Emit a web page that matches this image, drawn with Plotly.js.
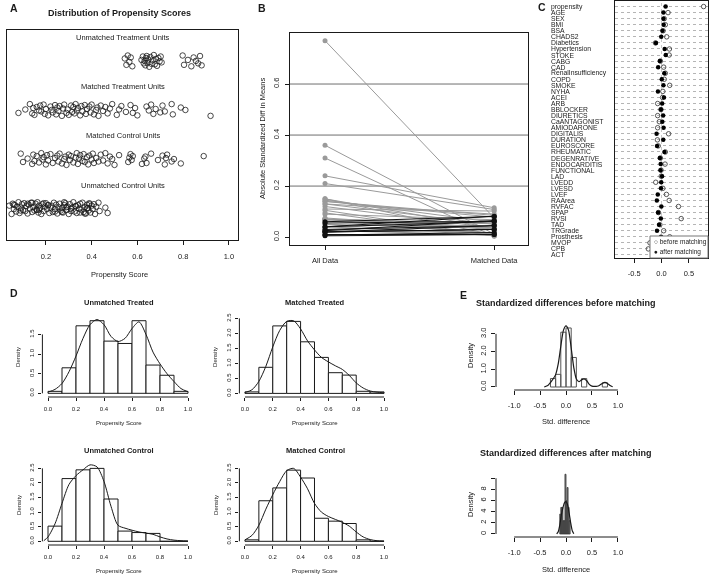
<!DOCTYPE html>
<html><head><meta charset="utf-8">
<script src="https://cdn.plot.ly/plotly-3.0.1.min.js"></script>
<style>html,body{margin:0;padding:0;background:#fff}#chart{width:709px;height:574px;filter:grayscale(100%)}</style>
</head><body><div id="chart"></div>
<script>
// ================= DATA =================
// Panel A: propensity scores by group (jittered strip chart)
const groupLabels = ['Unmatched Treatment Units','Matched Treatment Units','Matched Control Units','Unmatched Control Units'];
const groupLevels = [4,3,2,1];
const unmatchedTreatScores = [0.545,0.552,0.558,0.565,0.571,0.578,0.618,0.624,0.628,0.632,0.635,0.638,0.641,0.644,0.648,0.652,0.657,0.662,0.667,0.672,0.676,0.681,0.686,0.692,0.697,0.702,0.706,0.798,0.804,0.821,0.836,0.846,0.856,0.866,0.874,0.881];
const matchedTreatScores = [0.08,0.11,0.13,0.14,0.145,0.15,0.16,0.17,0.175,0.18,0.19,0.195,0.20,0.21,0.22,0.225,0.23,0.24,0.245,0.25,0.255,0.26,0.27,0.275,0.28,0.29,0.295,0.30,0.31,0.315,0.32,0.325,0.33,0.335,0.34,0.35,0.355,0.36,0.37,0.375,0.38,0.39,0.395,0.40,0.41,0.42,0.425,0.43,0.44,0.45,0.46,0.47,0.48,0.49,0.51,0.52,0.53,0.55,0.57,0.58,0.59,0.60,0.64,0.65,0.66,0.67,0.68,0.70,0.71,0.72,0.75,0.755,0.79,0.81,0.92];
const matchedControlScores = [0.09,0.10,0.12,0.14,0.145,0.15,0.16,0.17,0.18,0.185,0.19,0.20,0.205,0.21,0.22,0.23,0.24,0.25,0.255,0.26,0.27,0.28,0.285,0.29,0.30,0.305,0.31,0.32,0.33,0.335,0.34,0.345,0.35,0.36,0.365,0.37,0.38,0.385,0.39,0.40,0.405,0.41,0.42,0.43,0.44,0.45,0.46,0.47,0.48,0.49,0.50,0.52,0.56,0.565,0.57,0.575,0.58,0.62,0.63,0.635,0.64,0.66,0.69,0.71,0.72,0.725,0.73,0.75,0.76,0.79,0.89];
const unmatchedControlScores = [0.04,0.05,0.055,0.06,0.065,0.07,0.075,0.08,0.085,0.09,0.095,0.10,0.105,0.11,0.115,0.12,0.125,0.13,0.135,0.14,0.145,0.15,0.155,0.16,0.163,0.167,0.17,0.175,0.18,0.185,0.19,0.195,0.20,0.205,0.21,0.215,0.22,0.225,0.23,0.235,0.24,0.245,0.25,0.255,0.26,0.265,0.27,0.275,0.28,0.285,0.29,0.295,0.30,0.305,0.31,0.315,0.32,0.325,0.33,0.335,0.34,0.345,0.35,0.355,0.36,0.365,0.37,0.375,0.38,0.383,0.387,0.39,0.395,0.40,0.405,0.41,0.415,0.42,0.43,0.435,0.46,0.47,0.12,0.16,0.21,0.24,0.28,0.31,0.33,0.37,0.39,0.17,0.19,0.27,0.29,0.06,0.09,0.14,0.35,0.38];
const jitterOffsets = [0.05,-0.08,0.11,-0.02,0.07,-0.11,0.02,0.09,-0.05,0.00,-0.09,0.06,0.10,-0.04,0.03,-0.12,0.08,-0.06,0.01,0.12,-0.07,0.04,-0.10,0.06,-0.01,0.09,-0.03,0.11,-0.08,0.02,-0.11,0.07,0.00,-0.05,0.10,-0.09,0.05,-0.02,0.08,-0.12,0.03,0.11,-0.06,0.01,-0.10,0.09,-0.04,0.06,-0.07,0.12,-0.01,0.04,-0.11,0.08,-0.03,0.10,-0.08,0.02,0.07,-0.05,0.11,-0.09,0.00,0.05,-0.12,0.09,-0.02,0.06,-0.07,0.03,0.12,-0.10,0.01,0.08,-0.04,0.10,-0.06,0.04,-0.11,0.07,-0.01,0.11,-0.08,0.02,-0.05,0.09,-0.03,0.12,-0.09,0.05,0.00,-0.12,0.08,-0.06,0.03,0.10,-0.02,0.06,-0.10,0.01];

// Panels B, C, E: standardized differences per covariate
const covariates = ['propensity','AGE','SEX','BMI','BSA','CHADS2','Diabetics','Hypertension','STOKE','CABG','CAD','RenalInsufficiency','COPD','SMOKE','NYHA','ACEI','ARB','BBLOCKER','DIURETICS','CaANTAGONIST','AMIODARONE','DIGITALIS','DURATION','EUROSCORE','RHEUMATIC','DEGENRATIVE','ENDOCARDITIS','FUNCTIONAL','LAD','LVEDD','LVESD','LVEF','RAArea','RVFAC','SPAP','RVSI','TAD','TRGrade','Prosthesis','MVOP','CPB','ACT'];
const stdDiffBefore = [0.77,0.12,0.05,0.07,0.03,0.095,-0.11,0.145,0.14,-0.02,0.04,0.07,0.05,0.15,0.025,0.02,-0.07,-0.01,-0.07,-0.04,-0.07,0.13,-0.075,-0.06,0.07,-0.02,0.065,-0.008,-0.005,-0.105,0.025,0.09,0.14,0.31,-0.055,0.36,-0.03,0.04,0.15,-0.21,-0.24,-0.13];
const stdDiffAfter = [0.075,0.035,0.036,0.039,0.018,-0.005,-0.102,0.058,0.078,-0.03,-0.061,0.052,0.005,0.035,-0.065,0.045,0.012,-0.01,0.03,0.015,0.038,-0.09,0.032,-0.081,0.055,-0.03,-0.015,-0.018,0.01,-0.005,-0.01,-0.068,-0.085,-0.003,-0.062,-0.012,-0.045,-0.082,-0.008,-0.108,-0.115,-0.05];
const balanceLabels = ['All Data','Matched Data'];
const legendLabels = ['before matching','after matching'];

// Panel D: propensity score histograms (density, bins of 0.1) and density curves
const histBinCenters = [0.05,0.15,0.25,0.35,0.45,0.55,0.65,0.75,0.85,0.95];
const histTitles = ['Unmatched Treated','Matched Treated','Unmatched Control','Matched Control'];
const densUnmatchedTreated = [0.05,0.65,1.72,1.85,1.33,1.27,1.85,0.72,0.46,0.05];
const densMatchedTreated   = [0.05,0.87,2.25,2.40,1.72,1.20,0.69,0.61,0.07,0.05];
const densUnmatchedControl = [0.52,2.15,2.45,2.50,1.45,0.35,0.30,0.27,0.0,0.0];
const densMatchedControl   = [0.05,1.39,1.83,2.44,2.17,0.79,0.69,0.61,0.05,0.0];
const curveUTx = [0,0.05,0.1,0.15,0.2,0.25,0.3,0.35,0.4,0.45,0.5,0.55,0.6,0.65,0.7,0.75,0.8,0.85,0.9,0.95,1.0];
const curveUTy = [0.03,0.1,0.25,0.55,0.95,1.4,1.75,1.88,1.75,1.45,1.32,1.4,1.65,1.82,1.5,1.05,0.75,0.5,0.3,0.12,0.04];
const curveMTx = [0,0.05,0.1,0.15,0.2,0.25,0.3,0.35,0.4,0.45,0.5,0.55,0.6,0.65,0.7,0.75,0.8,0.85,0.9,0.95,1.0];
const curveMTy = [0.03,0.12,0.4,0.9,1.55,2.1,2.4,2.42,2.15,1.75,1.45,1.2,1.05,0.92,0.8,0.6,0.35,0.18,0.08,0.04,0.02];
const curveUCx = [-0.03,0,0.05,0.1,0.15,0.2,0.25,0.3,0.35,0.4,0.45,0.5,0.55,0.6,0.65,0.7,0.75,0.8,0.85,0.9,0.95,1.0];
const curveUCy = [0.02,0.15,0.6,1.3,1.95,2.25,2.45,2.62,2.55,2.05,1.2,0.55,0.45,0.38,0.32,0.28,0.24,0.15,0.08,0.04,0.02,0.01];
const curveMCx = [0,0.05,0.1,0.15,0.2,0.25,0.3,0.35,0.4,0.45,0.5,0.55,0.6,0.65,0.7,0.75,0.8,0.85,0.9,0.95,1.0];
const curveMCy = [0.05,0.2,0.55,1.1,1.6,2.05,2.42,2.5,2.2,1.8,1.3,1.0,0.85,0.75,0.65,0.52,0.32,0.15,0.06,0.02,0.01];

// Panel E: density curves of standardized differences
const eTitles = ['Standardized differences before matching','Standardized differences after matching'];
const eBeforeCurveX = [-0.42,-0.35,-0.3,-0.25,-0.2,-0.15,-0.1,-0.05,0,0.05,0.1,0.15,0.2,0.25,0.3,0.35,0.4,0.45,0.5,0.55,0.6,0.65,0.7,0.75,0.8,0.85,0.9];
const eBeforeCurveY = [0,0.08,0.25,0.45,0.7,1.3,2.3,3.2,3.45,3.2,2.2,1.1,0.45,0.3,0.4,0.45,0.35,0.15,0.05,0.03,0.04,0.1,0.2,0.26,0.2,0.08,0.01];
const eAfterCurveX = [-0.18,-0.15,-0.12,-0.09,-0.06,-0.03,0,0.03,0.06,0.09,0.12,0.15];
const eAfterCurveY = [0,0.4,1.6,3.4,4.7,5.6,5.8,5.3,3.8,2.0,0.6,0.05];

// ================= LAYOUT HELPERS =================
const W = 709, H = 574;
const FONT = 'Liberation Sans, Arial, Helvetica, sans-serif';
const INK = '#1a1a1a';
const P = x => x / W;
const Q = y => 1 - y / H;
const dX = (a, b) => [P(a), P(b)];
const dY = (top, bottom) => [Q(bottom), Q(top)];
function ax(extra) {
  return Object.assign({showgrid:false, zeroline:false, showline:false, ticks:'outside', ticklen:4, tickwidth:1,
    tickcolor:INK, linecolor:INK, linewidth:1, tickfont:{family:FONT,size:7.5,color:INK}, fixedrange:true}, extra);
}
function txt(t, x, y, size, o) {
  return Object.assign({text:t, xref:'paper', yref:'paper', x:P(x), y:Q(y), showarrow:false,
    font:{family:FONT,size:size,color:INK}, xanchor:'center', yanchor:'middle'}, o || {});
}
const fmt1 = v => v.toFixed(1);

const traces = [];
const annotations = [];
const shapes = [];
const layout = {width:W, height:H, margin:{l:0,r:0,t:0,b:0}, paper_bgcolor:'#fff', plot_bgcolor:'rgba(0,0,0,0)',
  showlegend:false, font:{family:FONT,color:INK}, bargap:0};

// ================= PANEL A =================
layout.xaxis = ax({domain:dX(7,238), anchor:'y', range:[0.03,1.04], tickvals:[0.2,0.4,0.6,0.8,1.0],
  ticktext:[0.2,0.4,0.6,0.8,1.0].map(fmt1), showline:true, mirror:true, ticklabelstandoff:5});
layout.yaxis = ax({domain:dY(30,240), anchor:'x', range:[0.35,4.63], showline:true, mirror:true, ticks:'', showticklabels:false});
const groupScores = [unmatchedTreatScores, matchedTreatScores, matchedControlScores, unmatchedControlScores];
const shifts = [0,17,41,63];
groupScores.forEach((s, g) => {
  traces.push({type:'scatter', mode:'markers', xaxis:'x', yaxis:'y', x:s,
    y:s.map((v,i) => groupLevels[g] + jitterOffsets[(i + shifts[g]) % jitterOffsets.length]),
    marker:{symbol:'circle-open', size:5.5, color:INK, line:{width:0.8}}, hoverinfo:'skip'});
  annotations.push({text:groupLabels[g], xref:'x domain', yref:'y', x:0.5, y:groupLevels[g]+0.47, showarrow:false,
    font:{family:FONT,size:7.5,color:INK}, xanchor:'center', yanchor:'middle'});
});
annotations.push(txt('<b>Distribution of Propensity Scores</b>', 120, 13, 9));
annotations.push(txt('Propensity Score', 120, 275, 7.5));
annotations.push(txt('<b>A</b>', 8, 8, 10.5, {xanchor:'left'}));

// ================= PANEL B =================
layout.xaxis2 = ax({domain:dX(290,528), anchor:'y2', range:[0.793,2.2], tickvals:[1,2], ticktext:balanceLabels,
  showline:true, mirror:true, ticklabelstandoff:4});
layout.yaxis2 = ax({domain:dY(33,245), anchor:'x2', range:[-0.031,0.8], tickvals:[0,0.2,0.4,0.6],
  ticktext:[0,0.2,0.4,0.6].map(fmt1), tickangle:-90, showline:true, mirror:true, ticklabelstandoff:3});
[0.2,0.4,0.6].forEach(v => shapes.push({type:'line', xref:'x2 domain', x0:0, x1:1, yref:'y2', y0:v, y1:v,
  line:{color:'#6e6e6e', width:1}, layer:'below'}));
const grayX = [], grayY = [], blackX = [], blackY = [];
covariates.forEach((c, i) => {
  const a = Math.abs(stdDiffBefore[i]), b = Math.abs(stdDiffAfter[i]);
  if (b < a) { grayX.push(1,2,null); grayY.push(a,b,null); }
  else { blackX.push(1,2,null); blackY.push(a,b,null); }
});
traces.push({type:'scatter', mode:'lines+markers', xaxis:'x2', yaxis:'y2', x:grayX, y:grayY,
  line:{color:'#9a9a9a', width:1}, marker:{color:'#9a9a9a', size:5}, hoverinfo:'skip'});
traces.push({type:'scatter', mode:'lines+markers', xaxis:'x2', yaxis:'y2', x:blackX, y:blackY,
  line:{color:'#111', width:1}, marker:{color:'#111', size:5}, hoverinfo:'skip'});
annotations.push(txt('Absolute Standardized Diff in Means', 262, 139, 7.5, {textangle:-90}));
annotations.push(txt('<b>B</b>', 262, 8, 10.5));

// ================= PANEL C =================
const nC = covariates.length;
const rowY = covariates.map((c,i) => nC - i);
layout.xaxis3 = ax({domain:dX(615,708), anchor:'y3', range:[-0.85,0.85], tickvals:[-0.5,0,0.5],
  ticktext:['-0.5','0.0','0.5'], showline:true, mirror:true, ticklabelstandoff:4});
layout.yaxis3 = ax({domain:dY(0.5,258), anchor:'x3', range:[0.5,nC+1], tickvals:rowY, showticklabels:false, ticks:'',
  showgrid:true, gridcolor:'#b5b5b5', griddash:'dot', gridwidth:1, showline:true, mirror:true});
shapes.push({type:'line', xref:'x3', x0:0, x1:0, yref:'y3 domain', y0:0, y1:1, line:{color:'#c8c8c8', width:1, dash:'dot'}, layer:'below'});
traces.push({type:'scatter', mode:'markers', xaxis:'x3', yaxis:'y3', x:stdDiffBefore, y:rowY,
  marker:{symbol:'circle-open', size:4.5, color:'#444', line:{width:0.9}}, hoverinfo:'skip'});
traces.push({type:'scatter', mode:'markers', xaxis:'x3', yaxis:'y3', x:stdDiffAfter, y:rowY,
  marker:{symbol:'circle', size:4.5, color:'#000'}, hoverinfo:'skip'});
covariates.forEach((c, i) => annotations.push({text:c, xref:'paper', yref:'y3', x:P(549), y:rowY[i], showarrow:false,
  xanchor:'left', yanchor:'middle', font:{family:FONT, size:6.8, color:INK}}));
shapes.push({type:'rect', xref:'paper', yref:'paper', x0:P(650), x1:P(708), y0:Q(258), y1:Q(236),
  fillcolor:'#fff', line:{color:'#777', width:1}, layer:'above'});
annotations.push(txt('○ ' + legendLabels[0], 652, 242, 6.5, {xanchor:'left'}));
annotations.push(txt('● ' + legendLabels[1], 652, 252, 6.5, {xanchor:'left'}));
annotations.push(txt('<b>C</b>', 542, 7, 10.5));

// ================= PANEL D =================
const dPanels = [
  {n:4, dens:densUnmatchedTreated, cx:curveUTx, cy:curveUTy, xd:[42.4,193.6], yd:[316,397], yr:[-0.094,1.97], yt:[0,0.5,1,1.5]},
  {n:5, dens:densMatchedTreated,   cx:curveMTx, cy:curveMTy, xd:[239.4,389.6], yd:[316,397], yr:[-0.12,2.58], yt:[0,0.5,1,1.5,2,2.5]},
  {n:6, dens:densUnmatchedControl, cx:curveUCx, cy:curveUCy, xd:[42.4,193.6], yd:[464,545], yr:[-0.127,2.65], yt:[0,0.5,1,1.5,2,2.5]},
  {n:7, dens:densMatchedControl,   cx:curveMCx, cy:curveMCy, xd:[239.4,389.6], yd:[464,545], yr:[-0.127,2.65], yt:[0,0.5,1,1.5,2,2.5]}
];
const dTicks = [0,0.2,0.4,0.6,0.8,1.0];
dPanels.forEach((p, k) => {
  layout['xaxis'+p.n] = ax({domain:dX(p.xd[0],p.xd[1]), anchor:'y'+p.n, range:[-0.04,1.04], tickvals:dTicks,
    ticktext:dTicks.map(fmt1), ticklen:3, tickfont:{family:FONT,size:6,color:INK}, ticklabelstandoff:3});
  layout['yaxis'+p.n] = ax({domain:dY(p.yd[0],p.yd[1]), anchor:'x'+p.n, range:p.yr, tickvals:p.yt,
    ticktext:p.yt.map(fmt1), ticklen:3, tickangle:-90, tickfont:{family:FONT,size:6,color:INK}, ticklabelstandoff:2});
  shapes.push({type:'line', xref:'x'+p.n, x0:0, x1:1, yref:'y'+p.n+' domain', y0:0, y1:0, line:{color:INK,width:1}});
  shapes.push({type:'line', yref:'y'+p.n, y0:0, y1:p.yt[p.yt.length-1], xref:'x'+p.n+' domain', x0:0, x1:0, line:{color:INK,width:1}});
  traces.push({type:'bar', xaxis:'x'+p.n, yaxis:'y'+p.n, x:histBinCenters, y:p.dens, width:0.1,
    marker:{color:'#fff', line:{color:INK, width:1}}, hoverinfo:'skip'});
  traces.push({type:'scatter', mode:'lines', xaxis:'x'+p.n, yaxis:'y'+p.n, x:p.cx, y:p.cy,
    line:{color:INK, width:1, shape:'spline', smoothing:0.8}, hoverinfo:'skip', cliponaxis:true});
  const cxp = (p.xd[0]+p.xd[1])/2 + 0.5;
  annotations.push(txt('<b>'+histTitles[k]+'</b>', cxp, p.yd[0]-14, 7.5));
  annotations.push(txt('Propensity Score', cxp, p.yd[1]+26, 6));
  annotations.push(txt('Density', p.xd[0]-24, (p.yd[0]+p.yd[1])/2, 6, {textangle:-90}));
});
annotations.push(txt('<b>D</b>', 8, 293, 10.5, {xanchor:'left'}));

// ================= PANEL E =================
const eTicks = [-1,-0.5,0,0.5,1];
layout.xaxis8 = ax({domain:dX(496,636), anchor:'y8', range:[-1.35,1.35], tickvals:eTicks, ticktext:eTicks.map(fmt1), ticklabelstandoff:4});
layout.yaxis8 = ax({domain:dY(316,390), anchor:'x8', range:[-0.17,4.01], tickvals:[0,1,2,3], ticktext:['0.0','1.0','2.0','3.0'], tickangle:-90, ticklabelstandoff:2});
layout.xaxis9 = ax({domain:dX(496,636), anchor:'y9', range:[-1.35,1.35], tickvals:eTicks, ticktext:eTicks.map(fmt1), ticklabelstandoff:4});
layout.yaxis9 = ax({domain:dY(466,537), anchor:'x9', range:[-0.54,12.2], tickvals:[0,2,4,6,8,10], ticktext:['0','2','4','6','8',''], tickangle:-90, ticklabelstandoff:2});
shapes.push({type:'line', xref:'x8', x0:-1, x1:1, yref:'y8 domain', y0:0, y1:0, line:{color:INK,width:1}});
shapes.push({type:'line', yref:'y8', y0:0, y1:3, xref:'x8 domain', x0:0, x1:0, line:{color:INK,width:1}});
shapes.push({type:'line', xref:'x9', x0:-1, x1:1, yref:'y9 domain', y0:0, y1:0, line:{color:INK,width:1}});
shapes.push({type:'line', yref:'y9', y0:0, y1:10, xref:'x9 domain', x0:0, x1:0, line:{color:INK,width:1}});
traces.push({type:'histogram', xaxis:'x8', yaxis:'y8', x:stdDiffBefore, histnorm:'probability density',
  xbins:{start:-0.4, end:0.9, size:0.1}, marker:{color:'rgba(255,255,255,0)', line:{color:'#555', width:1}}, hoverinfo:'skip'});
traces.push({type:'scatter', mode:'lines', xaxis:'x8', yaxis:'y8', x:eBeforeCurveX, y:eBeforeCurveY,
  line:{color:INK, width:1.2, shape:'spline', smoothing:0.6}, hoverinfo:'skip'});
traces.push({type:'histogram', xaxis:'x9', yaxis:'y9', x:stdDiffAfter, histnorm:'probability density',
  xbins:{start:-0.14, end:0.12, size:0.02}, marker:{color:'#8a8a8a', line:{color:'#333', width:0.8}}, hoverinfo:'skip'});
traces.push({type:'scatter', mode:'lines', xaxis:'x9', yaxis:'y9', x:eAfterCurveX, y:eAfterCurveY,
  line:{color:INK, width:1.2, shape:'spline', smoothing:0.6}, hoverinfo:'skip'});
annotations.push(txt('<b>'+eTitles[0]+'</b>', 566, 303, 9));
annotations.push(txt('<b>'+eTitles[1]+'</b>', 566, 453, 9));
annotations.push(txt('Std. difference', 566, 421, 7.5));
annotations.push(txt('Std. difference', 566, 569, 7.5));
annotations.push(txt('Density', 470, 356, 7.5, {textangle:-90}));
annotations.push(txt('Density', 470, 505, 7.5, {textangle:-90}));
annotations.push(txt('<b>E</b>', 463, 295, 10.5));

layout.annotations = annotations;
layout.shapes = shapes;
Plotly.newPlot('chart', traces, layout, {displayModeBar:false, staticPlot:true});
</script>
</body></html>
